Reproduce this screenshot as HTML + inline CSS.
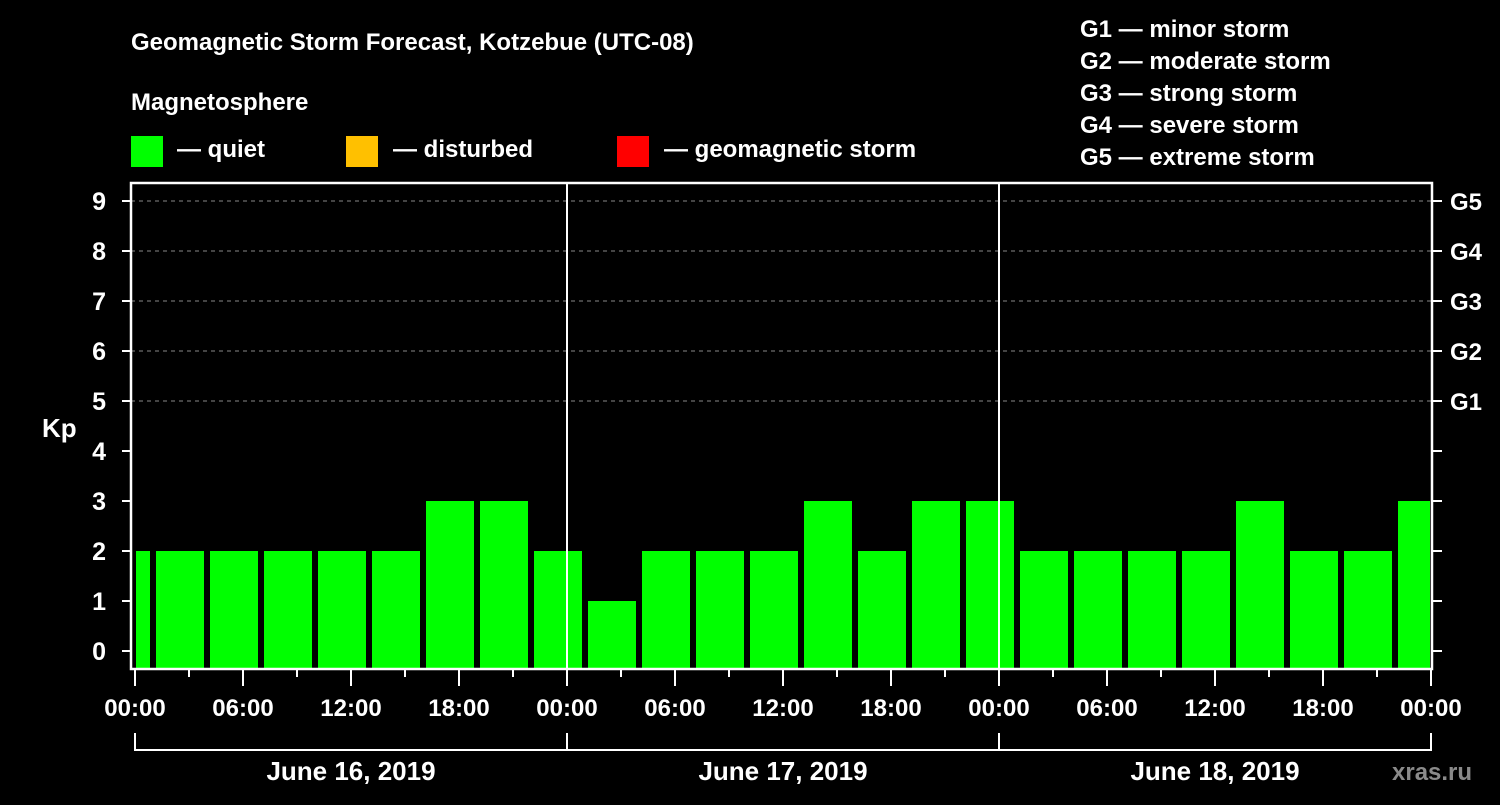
<!DOCTYPE html>
<html><head><meta charset="utf-8"><style>
html,body{margin:0;padding:0;background:#000;}
svg text{font-family:"Liberation Sans",Arial,sans-serif;font-weight:bold;fill:#fff;}
</style></head><body>
<svg id="chart" width="1500" height="800" viewBox="0 0 1500 800" xmlns="http://www.w3.org/2000/svg">
<rect width="1500" height="800" fill="#000"/>
<text x="131" y="50" font-size="24">Geomagnetic Storm Forecast, Kotzebue (UTC-08)</text>
<text x="131" y="110" font-size="24">Magnetosphere</text>
<g><rect x="131" y="136" width="32" height="31" fill="#00ff00"/><text x="177" y="157" font-size="24">— quiet</text></g>
<g><rect x="346" y="136" width="32" height="31" fill="#ffc000"/><text x="393" y="157" font-size="24">— disturbed</text></g>
<g><rect x="617" y="136" width="32" height="31" fill="#ff0000"/><text x="664" y="157" font-size="24">— geomagnetic storm</text></g>
<g font-size="24">
<text x="1080" y="37">G1 — minor storm</text>
<text x="1080" y="69">G2 — moderate storm</text>
<text x="1080" y="101">G3 — strong storm</text>
<text x="1080" y="133">G4 — severe storm</text>
<text x="1080" y="165">G5 — extreme storm</text>
</g>
<text x="42" y="437" font-size="26">Kp</text>
<text x="1392" y="780" font-size="24" fill="#888" style="fill:#8a8a8a">xras.ru</text>
<g id="grid"></g><g id="bars"></g><g id="axes"></g>
</svg>
<script>
const hours = [-2,1,4,7,10,13,16,19,22,25,28,31,34,37,40,43,46,49,52,55,58,61,64,67,70];
const kpValues = [2,2,2,2,2,2,3,3,2,1,2,2,2,3,2,3,3,2,2,2,2,3,2,2,3];
const yTicks = [0,1,2,3,4,5,6,7,8,9];
const gLabels = ["G1","G2","G3","G4","G5"];
const timeLabels = ["00:00","06:00","12:00","18:00"];
const dayLabels = ["June 16, 2019","June 17, 2019","June 18, 2019"];
const NS="http://www.w3.org/2000/svg";
const X0=135, PXH=18, L=131, R=1432, T=183, B=669;
const x = h => X0 + h*PXH;
const y = v => 651 - 50*v;
function mk(tag, attrs, parent){const e=document.createElementNS(NS,tag);for(const k in attrs)e.setAttribute(k,attrs[k]);parent.appendChild(e);return e;}
const grid=document.getElementById('grid'), bars=document.getElementById('bars'), axes=document.getElementById('axes');
for(let g=0; g<gLabels.length; g++){
  const v=5+g;
  const ln=mk('line',{x1:L,x2:R,y1:y(v),y2:y(v),stroke:'#888','stroke-width':1,'stroke-dasharray':'4,4'},grid);
  
  
  const t=mk('text',{x:1450,y:y(v)+9,'font-size':24},axes);
  t.textContent=gLabels[g];
  
  
}
for(let i=0;i<hours.length;i++){
  let x1=Math.max(x(hours[i])+3, L+5), x2=Math.min(x(hours[i]+3)-3, R-2);
  const v=kpValues[i];
  const col = v>=5 ? '#ff0000' : (v>=4 ? '#ffc000' : '#00ff00');
  const r=mk('rect',{x:x1,y:y(v),width:x2-x1,height:668-y(v),fill:col},bars);
  
  
}
for(const d of [1,2]){
  const ln=mk('line',{x1:x(24*d),x2:x(24*d),y1:T,y2:B,stroke:'#fff','stroke-width':2},axes);
  
  
}
const fr=mk('path',{d:`M${L} ${T}H${R}V${B}H${L}Z`,fill:'none',stroke:'#fff','stroke-width':2.5},axes);


for(const v of yTicks){
  mk('line',{x1:122,x2:L,y1:y(v),y2:y(v),stroke:'#fff','stroke-width':2},axes);
  mk('line',{x1:R,x2:1442,y1:y(v),y2:y(v),stroke:'#fff','stroke-width':2},axes);
  const t=mk('text',{x:106,y:y(v)+9,'font-size':25,'text-anchor':'end'},axes);
  t.textContent=v;
  
  
}
for(let h=0;h<=72;h+=3){
  const major=h%6===0;
  mk('line',{x1:x(h),x2:x(h),y1:B,y2:major?686:677,stroke:'#fff','stroke-width':2},axes);
  if(major){
    const t=mk('text',{x:x(h),y:716,'font-size':24,'text-anchor':'middle'},axes);
    t.textContent=timeLabels[(h/6)%4];
    
    
  }
}
mk('path',{d:`M${x(0)} 733V750H${x(72)}V733M${x(24)} 733V750M${x(48)} 733V750`,fill:'none',stroke:'#fff','stroke-width':2},axes);
for(let d=0;d<dayLabels.length;d++){
  const t=mk('text',{x:x(24*d+12),y:780,'font-size':26,'text-anchor':'middle'},axes);
  t.textContent=dayLabels[d];
  
  
}
</script>
</body></html>
